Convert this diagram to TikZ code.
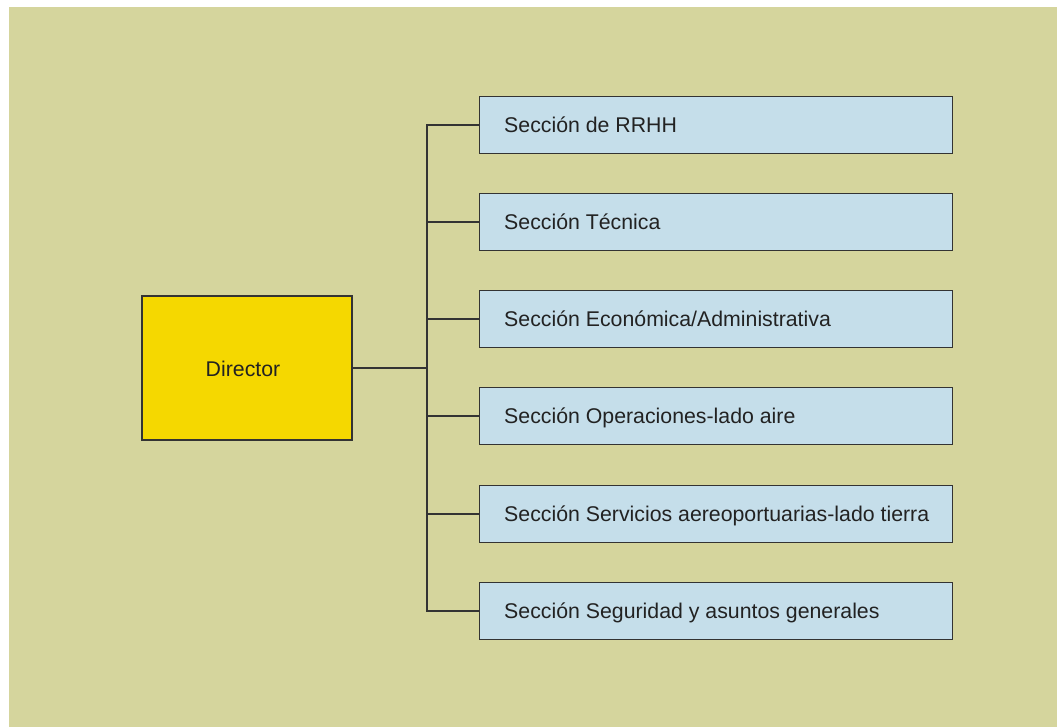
\documentclass[tikz,border=0pt]{standalone}
\usepackage{fontspec}
\setmainfont{Liberation Sans}
\definecolor{bgolive}{HTML}{D5D59D}
\definecolor{diryellow}{HTML}{F5D800}
\definecolor{secblue}{HTML}{C5DEEA}
\definecolor{linegray}{HTML}{333333}
\definecolor{textgray}{HTML}{222222}
\begin{document}
\begin{tikzpicture}[x=1pt,y=-1pt,
  lbl/.style={text=textgray,font=\fontsize{21.3}{25}\selectfont,inner sep=0pt},
  dirbox/.style={draw=linegray,line width=1.4pt,fill=diryellow,minimum width=210pt,minimum height=144pt,inner sep=0pt},
  secbox/.style={draw=linegray,line width=1.4pt,fill=secblue,minimum width=473pt,minimum height=57pt,inner sep=0pt,anchor=west},
  conn/.style={draw=linegray,line width=1.4pt}]
\useasboundingbox (0,0) rectangle (1057,727);
\fill[bgolive] (9,7) rectangle (1057,727);
\node[dirbox] (dir) at (247,368) {};
\node[lbl,anchor=base] (dirt) at (243,376) {Director};
\coordinate (bus) at (427,368);
\foreach \i/\y/\t in {1/125/{Sección de RRHH},2/222/{Sección Técnica},3/319/{Sección Económica/Administrativa},4/416/{Sección Operaciones-lado aire},5/514/{Sección Servicios aereoportuarias-lado tierra},6/611/{Sección Seguridad y asuntos generales}}{
  \node[secbox] (s\i) at (479,\y) {};
  \node[lbl,anchor=base west] (t\i) at (504,\y+7.5) {\t};
}
\draw[conn] (dir.east) -- (bus);
\draw[conn] (s1.west) -| (bus |- s6.west) -- (s6.west);
\foreach \i in {2,3,4,5}{\draw[conn] (bus |- s\i.west) -- (s\i.west);}
\end{tikzpicture}
\end{document}
